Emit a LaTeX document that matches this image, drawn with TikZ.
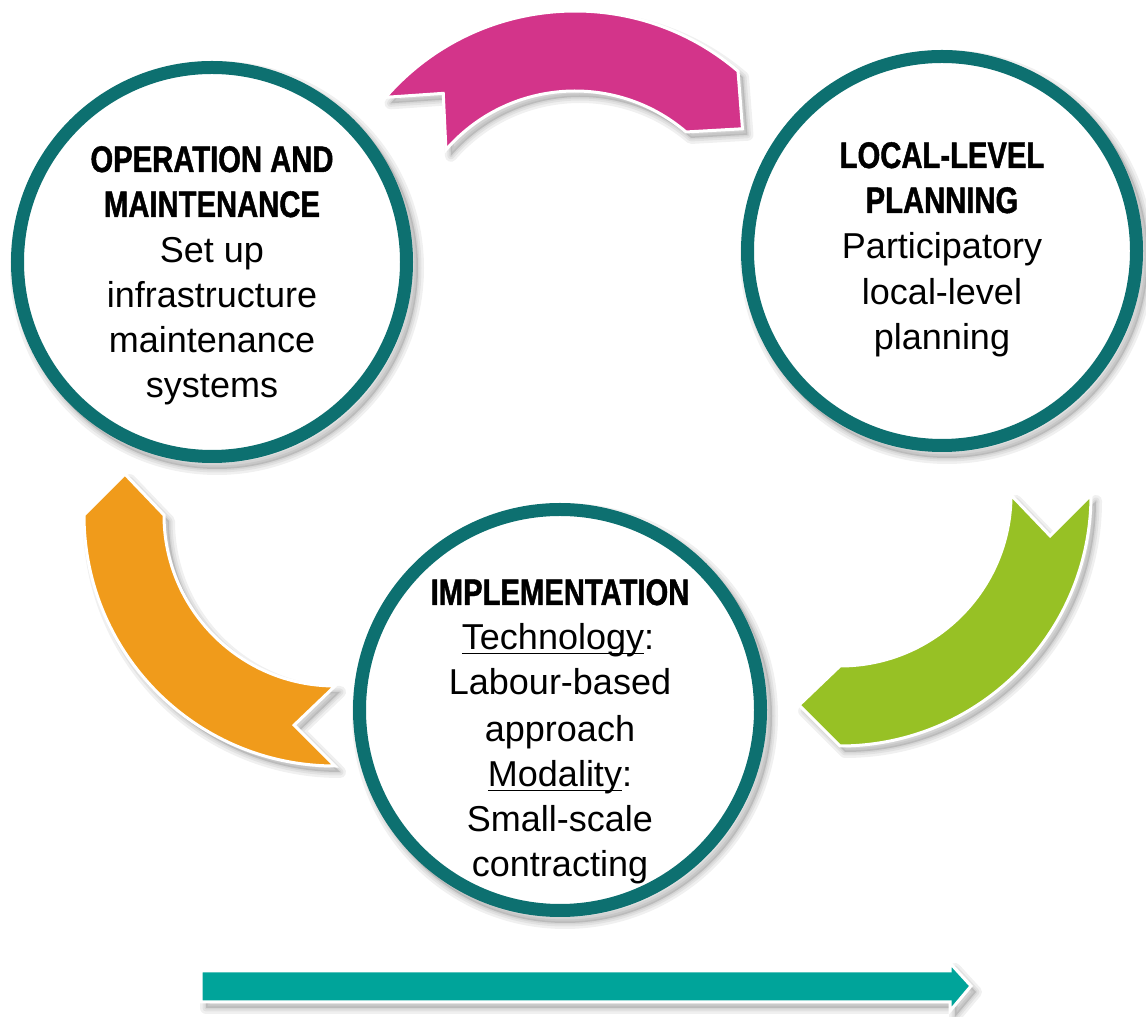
\documentclass[tikz,border=0pt]{standalone}
\usepackage{fontspec}
\setmainfont{Liberation Sans}
\newfontfamily\headfont[FakeStretch=0.79, BoldFeatures={FakeBold=1.2}]{Liberation Sans}
\definecolor{ringteal}{HTML}{0D7070}
\definecolor{magentaA}{HTML}{D3348A}
\definecolor{greenA}{HTML}{97C125}
\definecolor{orangeA}{HTML}{F09B1B}
\definecolor{tealA}{HTML}{00A49A}
\newcommand\arrowpath[4]{([shift={(#3:251pt)}]#1,#2) arc[start angle=#3, end angle=#4, radius=251pt] -- ([shift={({#4-11}:214pt)}]#1,#2) -- ([shift={(#4:171pt)}]#1,#2) arc[start angle=#4, end angle=#3, radius=171pt] -- ([shift={({#3-11}:214pt)}]#1,#2) -- cycle}
\newcommand\softshadow[1]{%
  \fill[black,opacity=0.12,shift={(5pt,-6pt)}] #1;
  \foreach \w in {3,7,12}{\draw[black,opacity=0.06,line width=\w pt,line join=round,shift={(5pt,-6pt)}] #1;}
}
\newcommand\myul[1]{\setbox0\hbox{#1}\rlap{\rule[-4pt]{\wd0}{1.4pt}}\box0}
\tikzset{
  ring/.style={circle, draw=ringteal, line width=13pt, fill=white, inner sep=0pt},
  headline/.style={anchor=base, inner sep=0pt, font=\headfont\bfseries\fontsize{37pt}{45pt}\selectfont},
  bodyline/.style={anchor=base, inner sep=0pt, font=\fontsize{36pt}{45pt}\selectfont},
  arrowfill/.style={draw=white, line width=3pt, line join=miter}
}
\begin{document}
\begin{tikzpicture}[x=1pt,y=1pt]
\useasboundingbox (0,0) rectangle (1146,1017);
% shadows
\softshadow{\arrowpath{575}{755}{139}{49.5}}
\softshadow{\arrowpath{840}{522}{0}{-90}}
\softshadow{\arrowpath{335}{502}{270}{180}}
\softshadow{(212,755) circle (201pt)}
\softshadow{(942,766) circle (201pt)}
\softshadow{(560,307) circle (207pt)}
\softshadow{(201,46) -- (950,46) -- (950,54) -- (971,31) -- (950,6) -- (950,15) -- (201,15) -- cycle}
% cycle arrows
\path[arrowfill, fill=magentaA] \arrowpath{575}{755}{139}{49.5};
\path[arrowfill, fill=greenA] \arrowpath{840}{522}{0}{-90};
\path[arrowfill, fill=orangeA] \arrowpath{335}{502}{270}{180};
% straight arrow
\path[arrowfill, fill=tealA] (201,46) -- (950,46) -- (950,54) -- (971,31) -- (950,6) -- (950,15) -- (201,15) -- cycle;
% circles
\node[ring, minimum size=389pt] (om) at (212,755) {};
\node[ring, minimum size=389pt] (lp) at (942,766) {};
\node[ring, minimum size=401pt] (im) at (560,307) {};
% texts: operation and maintenance
\node[headline] (om1) at (212,845) {OPERATION AND};
\node[headline] (om2) at (212,800) {MAINTENANCE};
\node[bodyline] (om3) at (212,754) {Set up};
\node[bodyline] (om4) at (212,709) {infrastructure};
\node[bodyline] (om5) at (212,664) {maintenance};
\node[bodyline] (om6) at (212,619) {systems};
% local-level planning
\node[headline] (lp1) at (942,849) {LOCAL-LEVEL};
\node[headline] (lp2) at (942,804) {PLANNING};
\node[bodyline] (lp3) at (942,758) {Participatory};
\node[bodyline] (lp4) at (942,712) {local-level};
\node[bodyline] (lp5) at (942,667) {planning};
% implementation
\node[headline] (im1) at (560,412) {IMPLEMENTATION};
\node[bodyline] (im2) at (558,367) {\myul{Technology}:};
\node[bodyline] (im3) at (560,322) {Labour-based};
\node[bodyline] (im4) at (560,275) {approach};
\node[bodyline] (im5) at (560,230) {\myul{Modality}:};
\node[bodyline] (im6) at (560,185) {Small-scale};
\node[bodyline] (im7) at (560,140) {contracting};
\end{tikzpicture}
\end{document}
